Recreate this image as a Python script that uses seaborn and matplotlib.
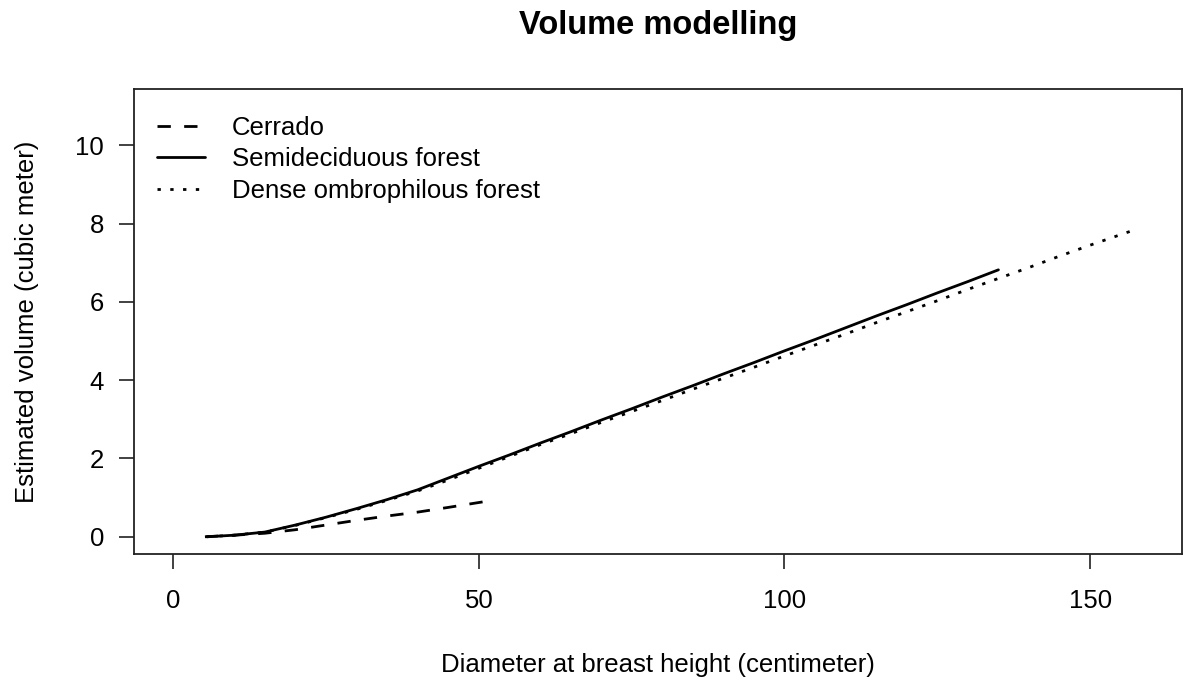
import numpy as np
import pandas as pd
import matplotlib
matplotlib.use("Agg")
import matplotlib.pyplot as plt
import seaborn as sns
from matplotlib.lines import Line2D

# Data
cerrado_dbh = [5.2, 10, 15, 20, 25, 30, 35, 40, 45, 51]
cerrado_vol = [0.0, 0.04, 0.09, 0.18, 0.30, 0.42, 0.53, 0.63, 0.75, 0.90]

semi_dbh = [5.5, 10, 15, 20, 25, 30, 35, 40, 45, 50, 55, 60, 65, 70, 75, 80, 85, 90,
            95, 100, 105, 110, 115, 120, 125, 130, 135]
semi_vol = [0.0, 0.04, 0.12, 0.30, 0.50, 0.72, 0.95, 1.20, 1.50, 1.80, 2.09, 2.39,
            2.68, 2.98, 3.27, 3.57, 3.86, 4.16, 4.45, 4.75, 5.04, 5.34, 5.64, 5.93,
            6.23, 6.52, 6.82]

dense_dbh = [5.5, 10, 15, 20, 25, 30, 35, 40, 45, 50, 55, 60, 65, 70, 75, 80, 85, 90,
             95, 100, 105, 110, 115, 120, 125, 130, 135, 140, 145, 150, 156.5]
dense_vol = [0.0, 0.04, 0.12, 0.29, 0.49, 0.70, 0.93, 1.17, 1.45, 1.75, 2.05, 2.35,
             2.63, 2.92, 3.20, 3.48, 3.77, 4.05, 4.33, 4.62, 4.90, 5.18, 5.47, 5.75,
             6.03, 6.32, 6.60, 6.88, 7.17, 7.45, 7.80]

labels = ["Cerrado", "Semideciduous forest", "Dense ombrophilous forest"]
x_ticks = [0, 50, 100, 150]
y_ticks = [0, 2, 4, 6, 8, 10]

df = pd.concat([
    pd.DataFrame({"dbh": cerrado_dbh, "vol": cerrado_vol, "type": labels[0]}),
    pd.DataFrame({"dbh": semi_dbh, "vol": semi_vol, "type": labels[1]}),
    pd.DataFrame({"dbh": dense_dbh, "vol": dense_vol, "type": labels[2]}),
])

sns.set_theme(style="white")
plt.rcParams["font.family"] = ["Liberation Sans", "DejaVu Sans"]
plt.rcParams["text.color"] = "black"
plt.rcParams["axes.labelcolor"] = "black"

FS = 18.5
fig = plt.figure(figsize=(11.83, 6.82), dpi=100)
ax = fig.add_axes([0.1133, 0.1877, 0.8857, 0.6818])

lw = 2.0
dash_map = {labels[0]: (4.8, 4.8), labels[1]: "", labels[2]: (1.2, 3.4)}
sns.lineplot(data=df, x="dbh", y="vol", style="type", dashes=dash_map,
             color="black", linewidth=lw, sort=False, estimator=None,
             legend=False, ax=ax)

ax.set_xlim(-6.4, 165.0)
ax.set_ylim(-0.44, 11.44)
ax.set_xticks(x_ticks)
ax.set_yticks(y_ticks)
ax.tick_params(axis="both", direction="out", length=10.5, width=1.3, color="#333333",
               labelsize=FS, labelcolor="black", left=True, bottom=True)
ax.tick_params(axis="x", pad=15)
ax.tick_params(axis="y", pad=11)
for s in ax.spines.values():
    s.set_color("#222222")
    s.set_linewidth(1.3)

ax.set_xlabel("Diameter at breast height (centimeter)", fontsize=FS)
ax.set_ylabel("Estimated volume (cubic meter)", fontsize=FS)
ax.xaxis.label.set_va("center")
ax.yaxis.label.set_va("center")
ax.xaxis.set_label_coords(0.5, -0.2387)
ax.yaxis.set_label_coords(-0.102, 0.5)
fig.text(0.5562, 0.962, "Volume modelling", ha="center", va="center",
         fontsize=23.5, fontweight="bold", color="black")

handles = [
    Line2D([], [], color="black", linewidth=lw, linestyle=(0, (4.8, 4.8))),
    Line2D([], [], color="black", linewidth=lw, linestyle="-"),
    Line2D([], [], color="black", linewidth=lw, linestyle=(0, (1.2, 3.4))),
]
ax.legend(handles, labels, loc="upper left", frameon=False, fontsize=FS,
          handlelength=1.87, handletextpad=1.05, labelspacing=0.28,
          borderpad=0.4, borderaxespad=0.5, bbox_to_anchor=(0.0, 0.9914))

ax.grid(False)
fig.savefig("out.png", dpi=100)
